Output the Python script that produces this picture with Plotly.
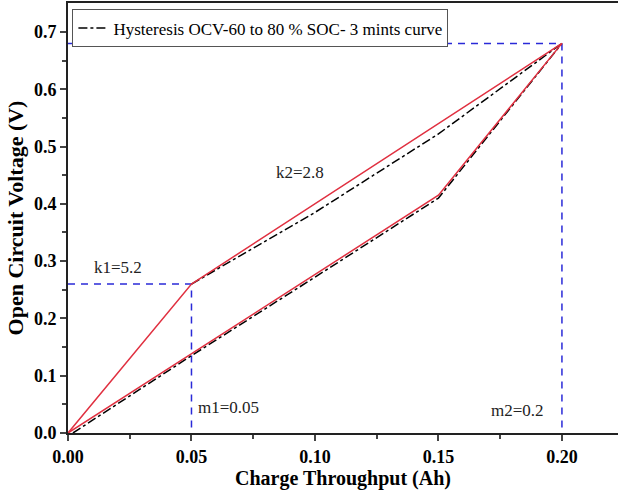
import plotly.graph_objects as go

# Data
red_upper_x = [0.0, 0.05, 0.20]
red_upper_y = [0.0, 0.26, 0.68]
red_lower_x = [0.0, 0.15, 0.20]
red_lower_y = [0.0, 0.415, 0.68]

blk_upper_x = [0.05, 0.10, 0.15, 0.20]
blk_upper_y = [0.26, 0.385, 0.522, 0.68]
blk_lower_x = [0.002, 0.05, 0.10, 0.15, 0.20]
blk_lower_y = [0.0, 0.135, 0.272, 0.41, 0.68]

k1_x, k1_y = 0.05, 0.26
m2_x, m2_y = 0.20, 0.68

labels = ["k1=5.2", "k2=2.8", "m1=0.05", "m2=0.2"]
label_x = [0.0202, 0.094, 0.0648, 0.182]
label_y = [0.288, 0.455, 0.045, 0.040]

legend_name = "Hysteresis OCV-60 to 80 % SOC- 3 mints curve"

FONT = "Liberation Serif"
BLUE = "#2a2ad8"
RED = "#e03040"

fig = go.Figure()

# blue dashed guide lines
fig.add_trace(go.Scatter(x=[0, m2_x, m2_x], y=[m2_y, m2_y, 0], mode="lines",
                         line=dict(color=BLUE, width=1.5, dash="7px,6px"), showlegend=False, hoverinfo="skip"))
fig.add_trace(go.Scatter(x=[0, k1_x, k1_x], y=[k1_y, k1_y, 0], mode="lines",
                         line=dict(color=BLUE, width=1.5, dash="7px,6px"), showlegend=False, hoverinfo="skip"))

# black dash-dot curve
fig.add_trace(go.Scatter(x=blk_lower_x + [None] + blk_upper_x,
                         y=blk_lower_y + [None] + blk_upper_y,
                         mode="lines", name=legend_name,
                         line=dict(color="black", width=1.5, dash="dashdot")))

# red curves
fig.add_trace(go.Scatter(x=red_upper_x, y=red_upper_y, mode="lines",
                         line=dict(color=RED, width=1.5), showlegend=False))
fig.add_trace(go.Scatter(x=red_lower_x, y=red_lower_y, mode="lines",
                         line=dict(color=RED, width=1.5), showlegend=False))

for t, x, y in zip(labels, label_x, label_y):
    fig.add_annotation(x=x, y=y, text=t, showarrow=False,
                       font=dict(family=FONT, size=17, color="#222"))

fig.update_layout(
    width=618, height=493,
    margin=dict(l=68, r=0, t=3, b=60),
    paper_bgcolor="white", plot_bgcolor="white",
    font=dict(family=FONT, color="black"),
    showlegend=True,
    legend=dict(x=0.008, y=0.985, xanchor="left", yanchor="top",
                bordercolor="#555", borderwidth=1, bgcolor="white",
                font=dict(family=FONT, size=17), itemwidth=30,
                tracegroupgap=0),
    xaxis=dict(range=[0, 0.2227], tickvals=[0, 0.05, 0.10, 0.15, 0.20],
               tickformat=".2f", ticks="outside", ticklen=6, tickwidth=1.5,
               showline=True, linecolor="#222", linewidth=2, mirror=True,
               showgrid=False, zeroline=False,
               minor=dict(tickvals=[0.025, 0.075, 0.125, 0.175, 0.225], ticks="outside", ticklen=4, tickwidth=1.5),
               tickfont=dict(family=FONT, size=18, weight="bold"),
               title=dict(text="<b>Charge Throughput (Ah)</b>", font=dict(family=FONT, size=20), standoff=2)),
    yaxis=dict(range=[0, 0.7505], tickvals=[0, 0.1, 0.2, 0.3, 0.4, 0.5, 0.6, 0.7],
               tickformat=".1f", ticks="outside", ticklen=6, tickwidth=1.5,
               showline=True, linecolor="#222", linewidth=2,
               showgrid=False, zeroline=False,
               minor=dict(tickvals=[0.05, 0.15, 0.25, 0.35, 0.45, 0.55, 0.65], ticks="outside", ticklen=4, tickwidth=1.5),
               tickfont=dict(family=FONT, size=18, weight="bold"),
               title=dict(text="<b>Open Circuit Voltage (V)</b>", font=dict(family=FONT, size=22), standoff=4)),
)

fig.write_html("out.html")
